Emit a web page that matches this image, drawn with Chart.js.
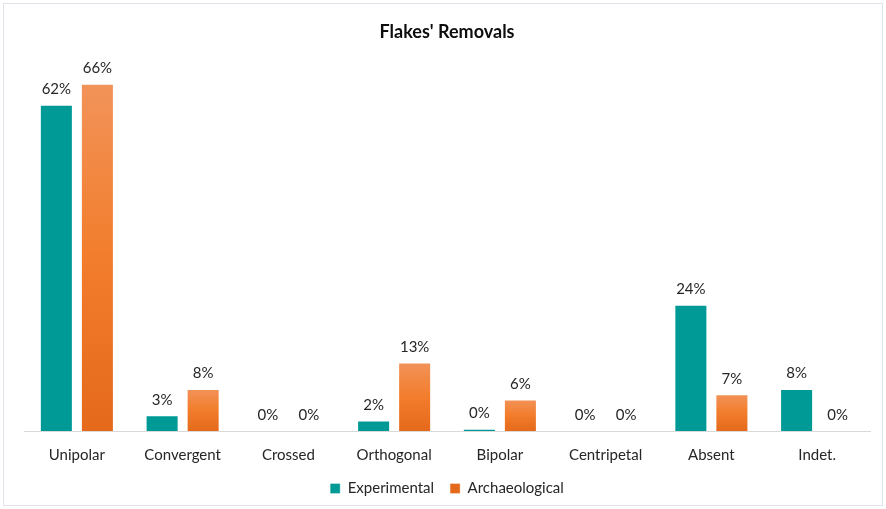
<!DOCTYPE html>
<html>
<head>
<meta charset="utf-8">
<script src="https://cdn.jsdelivr.net/npm/chart.js@4"></script>
<style>
  html, body { margin: 0; padding: 0; background: #fff; }
  #wrap { width: 886px; height: 509px; position: relative; }
</style>
</head>
<body>
<div id="wrap"><canvas id="flakesChart"></canvas></div>
<script>
const categories = ['Unipolar', 'Convergent', 'Crossed', 'Orthogonal', 'Bipolar', 'Centripetal', 'Absent', 'Indet.'];
const experimental = [62, 3, 0, 2, 0.45, 0, 24, 8];
const archaeological = [66, 8, 0, 13, 6, 0, 7, 0];

const TEAL = '#009A96';
const ORANGE = '#F07B2E';

// per-bar gradient for the orange series (lighter top, darker bottom)
function orangeFill(context) {
    const chart = context.chart;
    if (context.type !== 'data' || !chart.chartArea || !chart.scales.y) {
        return ORANGE;
    }
    const y = chart.scales.y;
    const top = y.getPixelForValue(context.raw);
    const bottom = y.getPixelForValue(0);
    if (!isFinite(top) || bottom - top < 1) {
        return ORANGE;
    }
    const g = chart.ctx.createLinearGradient(0, top, 0, bottom);
    g.addColorStop(0, '#F29359');
    g.addColorStop(0.5, '#F27D2C');
    g.addColorStop(1, '#E5691B');
    return g;
}

const valueLabels = {
    id: 'valueLabels',
    afterDatasetsDraw(chart) {
        const ctx = chart.ctx;
        ctx.save();
        ctx.font = '15px Lato, "Open Sans", sans-serif';
        ctx.fillStyle = '#262626';
        ctx.textAlign = 'center';
        ctx.textBaseline = 'bottom';
        chart.data.datasets.forEach((ds, i) => {
            const meta = chart.getDatasetMeta(i);
            meta.data.forEach((bar, j) => {
                const label = Math.round(ds.data[j]) + '%';
                ctx.fillText(label, bar.x, bar.y - 8);
            });
        });
        ctx.restore();
    }
};

const frame = {
    id: 'frame',
    beforeDraw(chart) {
        const ctx = chart.ctx;
        ctx.save();
        ctx.fillStyle = '#fff';
        ctx.fillRect(0, 0, chart.width, chart.height);
        ctx.strokeStyle = '#dfe3ea';
        ctx.lineWidth = 1;
        ctx.strokeRect(3.5, 3.5, chart.width - 7, chart.height - 7);
        ctx.restore();
    }
};

new Chart(document.getElementById('flakesChart'), {
    type: 'bar',
    data: {
        labels: categories,
        datasets: [
            {
                label: 'Experimental',
                data: experimental,
                backgroundColor: TEAL,
                borderColor: 'rgba(255,255,255,0.35)',
                borderWidth: 1,
                categoryPercentage: 0.776,
                barPercentage: 0.805
            },
            {
                label: 'Archaeological',
                data: archaeological,
                backgroundColor: orangeFill,
                borderColor: 'rgba(255,255,255,0.35)',
                borderWidth: 1,
                categoryPercentage: 0.776,
                barPercentage: 0.805
            }
        ]
    },
    options: {
        responsive: true,
        maintainAspectRatio: false,
        animation: false,
        layout: {
            padding: { left: 24, right: 16, top: 15, bottom: 3 }
        },
        plugins: {
            title: {
                display: true,
                text: "Flakes' Removals",
                color: '#0d0d0d',
                font: { family: 'Lato, "Open Sans", sans-serif', size: 18, weight: 'bold' },
                padding: { top: 6, bottom: 20 }
            },
            legend: {
                position: 'bottom',
                labels: {
                    color: '#262626',
                    font: { family: 'Lato, "Open Sans", sans-serif', size: 15 },
                    boxWidth: 10,
                    boxHeight: 10,
                    padding: 16
                }
            },
            tooltip: { enabled: false }
        },
        scales: {
            x: {
                grid: { display: false, drawTicks: false },
                border: { display: true, color: '#d9d9d9', width: 1 },
                ticks: {
                    color: '#262626',
                    font: { family: 'Lato, "Open Sans", sans-serif', size: 15 },
                    padding: 15
                },
                afterFit: (scale) => { scale.height = 34; }
            },
            y: {
                display: false,
                min: 0,
                max: 70
            }
        }
    },
    plugins: [frame, valueLabels]
});
</script>
</body>
</html>
